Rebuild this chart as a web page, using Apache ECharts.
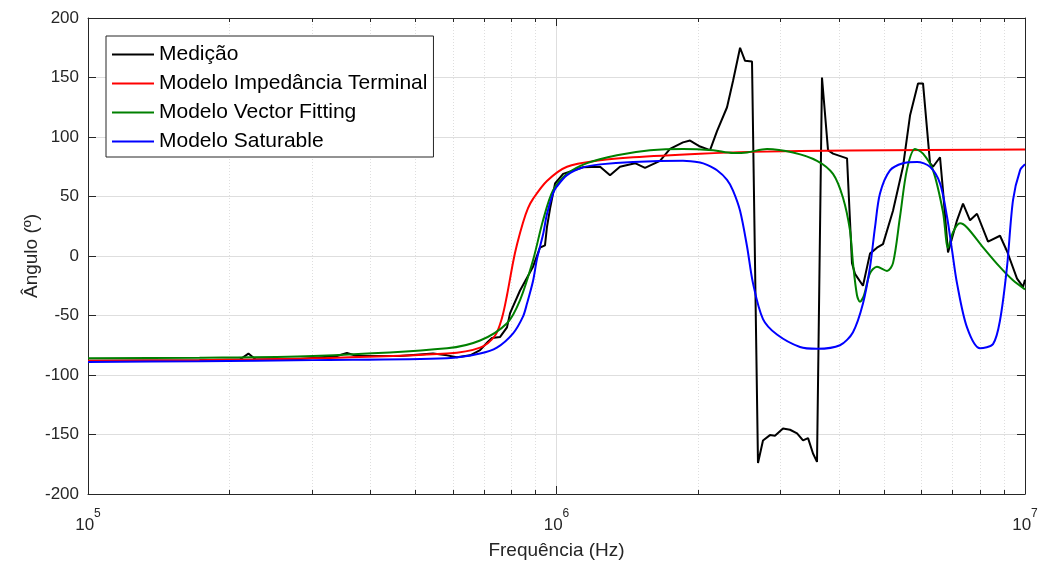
<!DOCTYPE html>
<html>
<head>
<meta charset="utf-8">
<script src="https://cdn.jsdelivr.net/npm/echarts@6/dist/echarts.min.js"></script>
<style>
html,body{margin:0;padding:0;background:#fff;}
#chart{width:1043px;height:561px;}
</style>
</head>
<body>
<div id="chart"></div>
<script>
// ---------- data ----------
const seriesNames = ['Medição', 'Modelo Impedância Terminal', 'Modelo Vector Fitting', 'Modelo Saturable'];
const seriesColors = ['#000000', '#ff0000', '#008000', '#0000ff'];

const freqMedicao = [1.00e5,1.73e5,2.11e5,2.20e5,2.28e5,2.84e5,3.40e5,3.57e5,3.75e5,4.63e5,5.45e5,5.84e5,6.13e5,6.54e5,6.87e5,7.14e5,7.28e5,7.58e5,7.84e5,7.96e5,8.36e5,8.91e5,9.22e5,9.45e5,9.54e5,9.69e5,9.93e5,1.033e6,1.139e6,1.239e6,1.301e6,1.366e6,1.471e6,1.545e6,1.663e6,1.747e6,1.862e6,1.928e6,2.025e6,2.127e6,2.201e6,2.312e6,2.381e6,2.465e6,2.526e6,2.614e6,2.692e6,2.759e6,2.855e6,2.926e6,3.044e6,3.151e6,3.262e6,3.359e6,3.443e6,3.528e6,3.598e6,3.687e6,3.798e6,3.892e6,4.170e6,4.273e6,4.336e6,4.510e6,4.668e6,4.831e6,4.976e6,5.227e6,5.490e6,5.683e6,5.911e6,6.058e6,6.270e6,6.364e6,6.586e6,6.683e6,6.850e6,7.160e6,7.374e6,7.632e6,7.899e6,8.339e6,8.845e6,9.155e6,9.616e6,9.903e6,1.0e7];
const angMedicao = [-88,-87.5,-87,-82,-87,-86.5,-84,-81.5,-84,-84,-82,-83.5,-85,-83.5,-79,-72,-69,-68,-60,-48,-29,-9,7,9,24,40,61,69,74.6,75,67.8,75,78,74,80,90,95.5,97,92,89,105,125,147,175,164,163.5,-174,-155,-150.5,-151,-145,-146,-149,-155,-153,-166,-173,150,89,86,82,-6,-15,-25,2,7,10,38,75,118,145,145,78,75,83,55,3,30,44,30,35.5,12,17,4,-19,-26,-20];

const freqTerminal = [1.00e5,1.73e5,3.02e5,5.84e5,6.87e5,7.39e5,7.65e5,7.84e5,8.08e5,8.24e5,8.48e5,8.69e5,8.91e5,9.54e5,1.053e6,1.239e6,1.457e6,2.025e6,2.588e6,4.231e6,1.0e7];
const angTerminal = [-88,-87.5,-86,-82,-77,-67,-52,-33,-5,10,28,40,48,63,75,80.4,83,86,87.5,88.7,89.5];

const freqVF = [1.00e5,1.73e5,3.02e5,5.84e5,6.87e5,7.84e5,8.36e5,8.91e5,9.36e5,9.83e5,1.053e6,1.162e6,1.346e6,1.584e6,1.862e6,2.159e6,2.381e6,2.551e6,2.814e6,3.198e6,3.598e6,3.892e6,4.088e6,4.231e6,4.294e6,4.379e6,4.444e6,4.532e6,4.668e6,4.831e6,5.075e6,5.227e6,5.410e6,5.600e6,5.824e6,6.058e6,6.364e6,6.683e6,6.850e6,7.020e6,7.266e6,7.520e6,8.136e6,8.845e6,9.428e6,1.0e7];
const angVF = [-86,-85.5,-84,-77.5,-71,-56.5,-37,-3.6,30,55,69,78,84.6,88.8,90,88.8,86.5,87,90,87,80,69,49,21.5,-6,-33,-38.5,-33,-14.5,-9,-12.5,-6,33,73,90,86,72,37,7,20,27.5,24,7.3,-9.4,-20.4,-28];

const freqSat = [1.00e5,1.73e5,3.02e5,5.84e5,6.87e5,7.46e5,8.08e5,8.48e5,8.65e5,8.91e5,9.09e5,9.36e5,9.54e5,9.83e5,1.00e6,1.053e6,1.139e6,1.239e6,1.457e6,1.862e6,2.025e6,2.096e6,2.201e6,2.312e6,2.381e6,2.465e6,2.551e6,2.627e6,2.759e6,2.955e6,3.310e6,3.598e6,4.028e6,4.294e6,4.510e6,4.668e6,4.784e6,4.903e6,5.150e6,5.490e6,5.882e6,6.270e6,6.586e6,6.816e6,6.986e6,7.160e6,7.520e6,8.017e6,8.545e6,8.845e6,9.155e6,9.428e6,9.759e6,1.0e7];
const angSat = [-89,-88.5,-87.5,-86,-82,-77,-65,-51,-40,-21,-2,18,35,52.5,58,68,74.5,77,79,80,78.5,76.5,72,64,55,38,8,-23,-53,-66,-76.5,-78,-75,-64,-40,-9.4,24,52.5,72,78,79,75,61,33,5,-23,-60,-77.5,-74,-54,-9,47,72,77];

const minorFreqs = [2e5,3e5,4e5,5e5,6e5,7e5,8e5,9e5,2e6,3e6,4e6,5e6,6e6,7e6,8e6,9e6];
const xMin = 1e5, xMax = 1e7;
const yMin = -200, yMax = 200, yStep = 50;

// ---------- chart ----------
const FONT = "'Liberation Sans', Arial, Helvetica, sans-serif";
const AX = '#262626';
const GRIDC = '#dedede';

function pairs(fs, vs){ return fs.map((f,i)=>[f, vs[i]]); }

const dataSets = [
  pairs(freqMedicao, angMedicao),
  pairs(freqTerminal, angTerminal),
  pairs(freqVF, angVF),
  pairs(freqSat, angSat)
];

const lineSeries = seriesNames.map((name, i) => ({
  name: name,
  type: 'line',
  data: dataSets[i],
  symbol: 'none',
  smooth: i === 0 ? false : 0.3,
  lineStyle: { color: seriesColors[i], width: 2 },
  itemStyle: { color: seriesColors[i] },
  z: 3 + i,
  silent: true
}));

const minorSeries = {
  name: 'minor',
  type: 'custom',
  data: minorFreqs.map(f => [f, 0]),
  encode: { x: 0, y: 1 },
  silent: true,
  z: 1,
  renderItem: function (params, api) {
    const x = Math.round(api.coord([api.value(0), 0])[0]) + 0.5;
    const cs = params.coordSys;
    return {
      type: 'group',
      children: [
        { type: 'line', shape: { x1: x, y1: cs.y, x2: x, y2: cs.y + cs.height },
          style: { stroke: GRIDC, lineWidth: 1, lineDash: [1, 2] } },
        { type: 'line', shape: { x1: x, y1: cs.y + cs.height, x2: x, y2: cs.y + cs.height - 4 },
          style: { stroke: AX, lineWidth: 1 } },
        { type: 'line', shape: { x1: x, y1: cs.y, x2: x, y2: cs.y + 4 },
          style: { stroke: AX, lineWidth: 1 } }
      ]
    };
  }
};

const supRich = {
  b: { fontSize: 17, color: AX, fontFamily: FONT, lineHeight: 26, verticalAlign: 'bottom' },
  s: { fontSize: 12, color: AX, fontFamily: FONT, lineHeight: 12, verticalAlign: 'top' }
};

const option = {
  animation: false,
  backgroundColor: '#ffffff',
  textStyle: { fontFamily: FONT },
  grid: { left: 88, right: 18, top: 18, bottom: 67, containLabel: false, outerBoundsMode: 'none' },
  legend: {
    data: seriesNames.map((n, i) => ({ name: n, icon: 'rect', itemStyle: { color: seriesColors[i] } })),
    orient: 'vertical',
    left: 106,
    top: 36,
    padding: [8, 6, 5, 6],
    itemGap: 8,
    itemWidth: 42,
    itemHeight: 2,
    backgroundColor: '#ffffff',
    borderColor: AX,
    borderWidth: 1,
    borderRadius: 0,
    textStyle: { fontSize: 21, color: '#000', fontFamily: FONT, lineHeight: 21 }
  },
  xAxis: [
    {
      type: 'log', logBase: 10, min: xMin, max: xMax,
      name: 'Frequência (Hz)', nameLocation: 'middle', nameGap: 47,
      nameTextStyle: { fontSize: 19, color: AX, fontFamily: FONT },
      axisLine: { show: true, onZero: false, lineStyle: { color: AX, width: 1 } },
      axisTick: { show: true, inside: true, length: 8, lineStyle: { color: AX } },
      axisLabel: {
        margin: 14, showMinLabel: true, showMaxLabel: true,
        formatter: function (v) { return '{b|10}{s|' + Math.round(Math.log10(v)) + '}'; },
        rich: supRich
      },
      splitLine: { show: true, lineStyle: { color: GRIDC, width: 1 } },
      minorTick: { show: false }
    },
    {
      type: 'log', logBase: 10, min: xMin, max: xMax, position: 'top',
      axisLine: { show: true, onZero: false, lineStyle: { color: AX, width: 1 } },
      axisTick: { show: true, inside: true, length: 8, lineStyle: { color: AX } },
      axisLabel: { show: false },
      splitLine: { show: false }
    }
  ],
  yAxis: [
    {
      type: 'value', min: yMin, max: yMax, interval: yStep,
      name: 'Ângulo (º)', nameLocation: 'middle', nameGap: 47, nameRotate: 90,
      nameMoveOverlap: false,
      nameTextStyle: { fontSize: 19, color: AX, fontFamily: FONT },
      axisLine: { show: true, onZero: false, lineStyle: { color: AX, width: 1 } },
      axisTick: { show: true, inside: true, length: 8, lineStyle: { color: AX } },
      axisLabel: { fontSize: 17, color: AX, fontFamily: FONT, margin: 9 },
      splitLine: { show: true, lineStyle: { color: GRIDC, width: 1 } }
    },
    {
      type: 'value', min: yMin, max: yMax, interval: yStep, position: 'right',
      axisLine: { show: true, onZero: false, lineStyle: { color: AX, width: 1 } },
      axisTick: { show: true, inside: true, length: 8, lineStyle: { color: AX } },
      axisLabel: { show: false },
      splitLine: { show: false }
    }
  ],
  series: [minorSeries].concat(lineSeries)
};

const chart = echarts.init(document.getElementById('chart'), null, { renderer: 'canvas' });
chart.setOption(option);
</script>
</body>
</html>
